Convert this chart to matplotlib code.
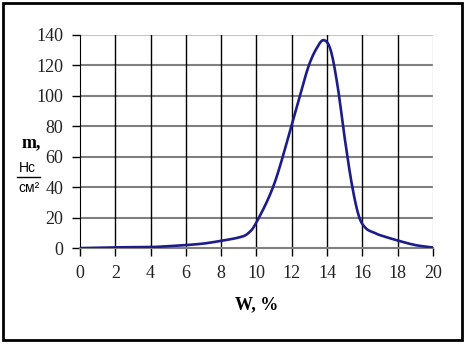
import numpy as np
import matplotlib.pyplot as plt
from matplotlib.patches import Rectangle

# moisture W, % and value m, Hc/cm^2
w = [0, 2, 4, 5, 6, 7, 8, 9, 9.5, 10, 11, 12, 12.6, 13, 13.4, 13.8, 14.2, 14.6, 15, 15.4, 15.8,
     16.2, 16.7, 17, 18, 19, 20]
m = [0, 0.5, 0.7, 1.3, 2, 3, 4.8, 7, 9.5, 17, 42, 81, 106, 121, 131, 136.5, 130, 106, 72, 42, 21,
     13, 10, 8.5, 5, 2, 0.4]


def smooth(x, y, n=20):
    # catmull-rom like the "smoothed line" option of the spreadsheet
    x = np.asarray(x, float)
    y = np.asarray(y, float)
    px = np.concatenate([[2 * x[0] - x[1]], x, [2 * x[-1] - x[-2]]])
    py = np.concatenate([[2 * y[0] - y[1]], y, [2 * y[-1] - y[-2]]])
    xs, ys = [], []
    t = np.linspace(0, 1, n, endpoint=False)
    for i in range(1, len(px) - 2):
        for p, out in ((px, xs), (py, ys)):
            p0, p1, p2, p3 = p[i - 1], p[i], p[i + 1], p[i + 2]
            out.extend(0.5 * (2 * p1 + (-p0 + p2) * t
                              + (2 * p0 - 5 * p1 + 4 * p2 - p3) * t ** 2
                              + (-p0 + 3 * p1 - 3 * p2 + p3) * t ** 3))
    xs.append(x[-1])
    ys.append(y[-1])
    return np.array(xs), np.array(ys)


fig = plt.figure(figsize=(4.67, 3.48), dpi=100)
ax = fig.add_axes([0.1713, 0.287, 0.7559, 0.613])

for yv in range(20, 121, 20):
    ax.axhline(yv, color='#808080', lw=1.5, zorder=1)
ax.axhline(140, color='#c4c4c4', lw=1.5, zorder=1)
for xv in range(2, 20, 2):
    ax.axvline(xv, color='black', lw=1.0, zorder=1)
ax.axvline(20, color='#c8c8c8', lw=1.0, zorder=1)

xs, ys = smooth(w, m)
ax.plot(xs, ys, color='#1c1c8a', lw=1.9, zorder=3, solid_capstyle='round')

ax.set_xlim(0, 20)
ax.set_ylim(0, 140)
ax.set_xticks(range(0, 21, 2))
ax.set_yticks(range(0, 141, 20))
for s in ['top', 'right']:
    ax.spines[s].set_visible(False)
ax.spines['left'].set_color('black')
ax.spines['bottom'].set_color('#808080')
ax.spines['bottom'].set_linewidth(1.5)
ax.tick_params(axis='both', length=6, width=1, color='black', labelsize=13, pad=6)
for lab in ax.get_xticklabels() + ax.get_yticklabels():
    lab.set_family('Liberation Serif')
    lab.set_color('#222222')

fig.text(0.550, 0.123, 'W, %', ha='center', va='center', fontsize=13,
         fontweight='bold', family='Liberation Serif')
fig.text(0.066, 0.590, 'm,', ha='center', va='center', fontsize=13,
         fontweight='bold', family='Liberation Serif')
fig.text(0.058, 0.518, 'Нс', ha='center', va='center', fontsize=10,
         family='Liberation Sans')
fig.add_artist(plt.Line2D([0.036, 0.086], [0.491, 0.491], color='black', lw=1))
fig.text(0.062, 0.459, 'см²', ha='center', va='center', fontsize=10,
         family='Liberation Sans')

fig.add_artist(Rectangle((0.006, 0.022), 0.983, 0.970, transform=fig.transFigure,
                         fill=False, edgecolor='black', lw=2))

plt.savefig('out.png', dpi=100)
